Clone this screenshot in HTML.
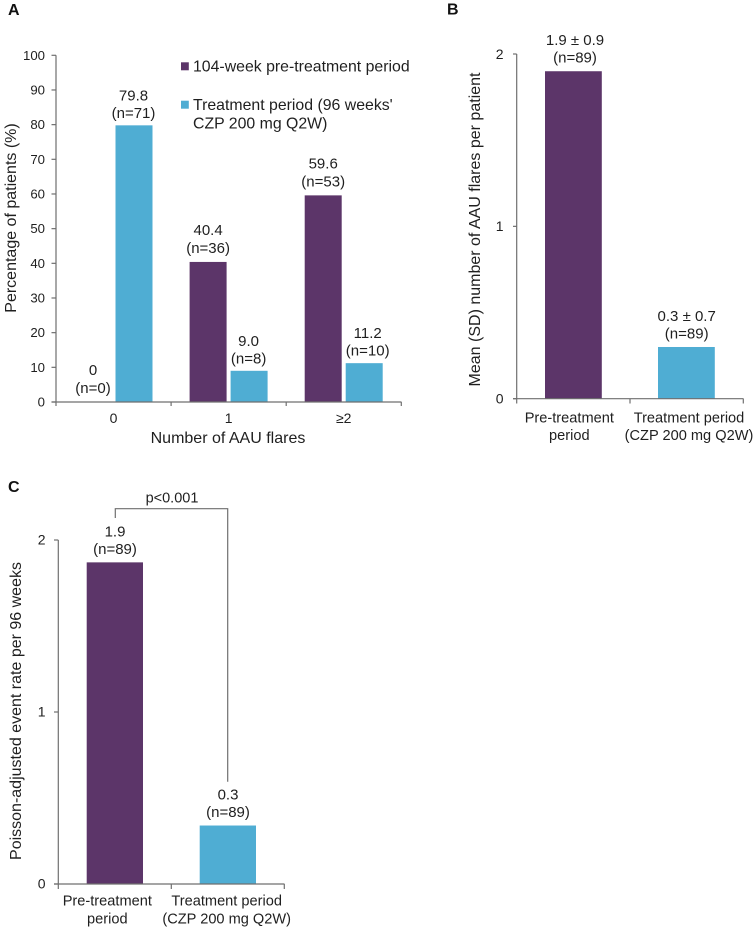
<!DOCTYPE html>
<html lang="en">
<head>
<meta charset="utf-8">
<title>AAU flares before and during CZP treatment</title>
<style>
html,body{margin:0;padding:0;background:#fff;}
svg{display:block;}
text{font-family:"Liberation Sans",Arial,sans-serif;fill:#1f1f1f;}
</style>
</head>
<body>
<svg id="chart" xmlns="http://www.w3.org/2000/svg" width="755" height="929" viewBox="0 0 755 929">
<text x="8" y="14.8" font-size="16" font-weight="700" style="fill:#111">A</text>
<text x="447" y="14.5" font-size="16" font-weight="700" style="fill:#111">B</text>
<text x="8" y="491.8" font-size="16" font-weight="700" style="fill:#111">C</text>
</svg>
<script>
const PURPLE = '#5c3569';
const BLUE = '#4fadd3';

const aCategories = ['0', '1', '≥2'];
const aPre = [0, 40.4, 59.6];
const aTreat = [79.8, 9.0, 11.2];
const aPreLabels = ['0', '40.4', '59.6'];
const aPreCounts = ['(n=0)', '(n=36)', '(n=53)'];
const aTreatLabels = ['79.8', '9.0', '11.2'];
const aTreatCounts = ['(n=71)', '(n=8)', '(n=10)'];
const aTicks = [0, 10, 20, 30, 40, 50, 60, 70, 80, 90, 100];

const bValues = [1.9, 0.3];
const bLabels = ['1.9 ± 0.9', '0.3 ± 0.7'];
const bCounts = ['(n=89)', '(n=89)'];
const bTicks = [0, 1, 2];

const cValues = [1.87, 0.34];
const cLabels = ['1.9', '0.3'];
const cCounts = ['(n=89)', '(n=89)'];
const cTicks = [0, 1, 2];

const periodLine1 = ['Pre-treatment', 'Treatment period'];
const periodLine2 = ['period', '(CZP 200 mg Q2W)'];

const svg = document.getElementById('chart');
function make(tag, attrs, content) {
  const el = document.createElementNS('http://www.w3.org/2000/svg', tag);
  for (const k in attrs) el.setAttribute(k, attrs[k]);
  if (content !== undefined) el.textContent = content;
  svg.appendChild(el);
  return el;
}
function axisLine(x1, y1, x2, y2, width) {
  return make('line', {x1: x1, y1: y1, x2: x2, y2: y2, stroke: '#6f6f6f', 'stroke-width': width || 1.2});
}
const scale = (y0, pxPerUnit) => v => y0 - v * pxPerUnit;

/* ---------- Panel A ---------- */
const aY = scale(402, 3.467);
const aGroupX = i => 113.5 + i * 115.1;
aTicks.forEach(t => {
  const tick = axisLine(51.5, aY(t), 56, aY(t));
  
  
  const lab = make('text', {x: 45, y: aY(t) + 4.5, 'font-size': 13.2, 'text-anchor': 'end'}, String(t));
  
  
});
aCategories.forEach((c, i) => {
  const cx = aGroupX(i);
  const pre = make('rect', {x: cx - 39, y: aY(aPre[i]), width: 37, height: 402 - aY(aPre[i]), fill: PURPLE});
  
  
  const tr = make('rect', {x: cx + 2, y: aY(aTreat[i]), width: 37, height: 402 - aY(aTreat[i]), fill: BLUE});
  
  
  const preTop = aY(aPre[i]);
  const l1 = make('text', {x: cx - 20.5, y: preTop - 27, 'font-size': 15, 'text-anchor': 'middle'}, aPreLabels[i]);
  
  
  const l2 = make('text', {x: cx - 20.5, y: preTop - 9, 'font-size': 15, 'text-anchor': 'middle'}, aPreCounts[i]);
  
  
  const trTop = aY(aTreat[i]);
  const trShift = i === 2 ? 4 : 0;
  const l3 = make('text', {x: cx + 20 + trShift, y: trTop - 25, 'font-size': 15, 'text-anchor': 'middle'}, aTreatLabels[i]);
  
  
  const l4 = make('text', {x: cx + 20 + trShift, y: trTop - 7.5, 'font-size': 15, 'text-anchor': 'middle'}, aTreatCounts[i]);
  
  
  const cat = make('text', {x: cx, y: 423, 'font-size': 14, 'text-anchor': 'middle'}, c);
  
  
});
const aYAxis = axisLine(56, aY(100), 56, 402);


const aXAxis = axisLine(51.5, 402, 401.5, 402);


[0, 1, 2, 3].forEach(i => {
  const x = 56 + i * 115.1;
  const tick = axisLine(x, 402, x, 406);
  
  
});
const aXT = make('text', {x: 228, y: 443, 'font-size': 16, 'text-anchor': 'middle'}, 'Number of AAU flares');


const aYT = make('text', {transform: 'translate(16,218) rotate(-90)', 'font-size': 16, 'text-anchor': 'middle'}, 'Percentage of patients (%)');



const sw1 = make('rect', {x: 181, y: 62.3, width: 7.8, height: 8, fill: PURPLE});


const lg1 = make('text', {x: 193, y: 71.5, 'font-size': 15.85}, '104-week pre-treatment period');


const sw2 = make('rect', {x: 181, y: 100.7, width: 7.8, height: 8, fill: BLUE});


const lg2 = make('text', {x: 193, y: 110, 'font-size': 15.85}, "Treatment period (96 weeks'");


const lg3 = make('text', {x: 193, y: 128.3, 'font-size': 15.85}, 'CZP 200 mg Q2W)');



/* ---------- Panel B ---------- */
const bY = scale(398.7, 172.35);
bTicks.forEach(t => {
  const tick = axisLine(513, bY(t), 516.7, bY(t));
  
  
  const lab = make('text', {x: 503.5, y: bY(t) + 4.8, 'font-size': 14, 'text-anchor': 'end'}, String(t));
  
  
});
const bBarX = [545, 658];
const bLabelX = [575, 686.7];
const bCatX = [569.3, 689];
bValues.forEach((v, i) => {
  const top = bY(v);
  const bar = make('rect', {x: bBarX[i], y: top, width: 56.8, height: 398.7 - top, fill: i === 0 ? PURPLE : BLUE});
  
  
  const l1 = make('text', {x: bLabelX[i], y: top - 26, 'font-size': 15, 'text-anchor': 'middle'}, bLabels[i]);
  
  
  const l2 = make('text', {x: bLabelX[i], y: top - 8.5, 'font-size': 15, 'text-anchor': 'middle'}, bCounts[i]);
  
  
  const c1 = make('text', {x: bCatX[i], y: 422.3, 'font-size': 14.6, 'text-anchor': 'middle'}, periodLine1[i]);
  
  
  const c2 = make('text', {x: bCatX[i], y: 440, 'font-size': 14.6, 'text-anchor': 'middle'}, periodLine2[i]);
  
  
});
const bYAxis = axisLine(516.7, bY(2), 516.7, 398.7);


const bXAxis = axisLine(513, 398.7, 743.5, 398.7);


[0, 1, 2].forEach(i => {
  const x = 516.7 + i * 113.3;
  const tick = axisLine(x, 398.7, x, 403.5);
  
  
});
const bYT = make('text', {transform: 'translate(480,229.5) rotate(-90)', 'font-size': 16, 'text-anchor': 'middle'}, 'Mean (SD) number of AAU flares per patient');



/* ---------- Panel C ---------- */
const cY = scale(884, 172);
cTicks.forEach(t => {
  const tick = axisLine(54, cY(t), 58.3, cY(t));
  
  
  const lab = make('text', {x: 45.5, y: cY(t) + 4.7, 'font-size': 14, 'text-anchor': 'end'}, String(t));
  
  
});
const cBarX = [86.7, 199.7];
const cLabelX = [115, 228];
const cCatX = [107.3, 226.7];
cValues.forEach((v, i) => {
  const top = cY(v);
  const bar = make('rect', {x: cBarX[i], y: top, width: 56.3, height: 884 - top, fill: i === 0 ? PURPLE : BLUE});
  
  
  const l1 = make('text', {x: cLabelX[i], y: top - 26, 'font-size': 15, 'text-anchor': 'middle'}, cLabels[i]);
  
  
  const l2 = make('text', {x: cLabelX[i], y: top - 8.3, 'font-size': 15, 'text-anchor': 'middle'}, cCounts[i]);
  
  
  const c1 = make('text', {x: cCatX[i], y: 905.7, 'font-size': 14.6, 'text-anchor': 'middle'}, periodLine1[i]);
  
  
  const c2 = make('text', {x: cCatX[i], y: 923.3, 'font-size': 14.6, 'text-anchor': 'middle'}, periodLine2[i]);
  
  
});
const cYAxis = axisLine(58.3, cY(2), 58.3, 884);


const cXAxis = axisLine(54, 884, 284.5, 884);


[0, 1, 2].forEach(i => {
  const x = 58.3 + i * 113;
  const tick = axisLine(x, 884, x, 889);
  
  
});
const cYT = make('text', {transform: 'translate(21,711) rotate(-90)', 'font-size': 16, 'text-anchor': 'middle'}, 'Poisson-adjusted event rate per 96 weeks');



const bracket = make('path', {d: 'M115.3 518V508.7H227.7V781.7', fill: 'none', stroke: '#6f6f6f', 'stroke-width': 1.2});


const pText = make('text', {x: 172, y: 502.7, 'font-size': 14.5, 'text-anchor': 'middle'}, 'p<0.001');


</script>
</body>
</html>
